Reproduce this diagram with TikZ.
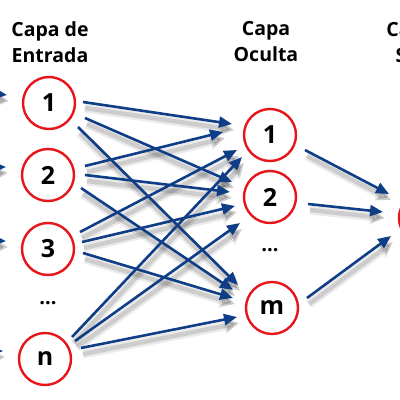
\documentclass[tikz,border=0pt]{standalone}
\usepackage{fontspec}
\setmainfont{Open Sans}
\usetikzlibrary{arrows.meta,calc}
\definecolor{arrblue}{RGB}{16,62,134}
\definecolor{nodered}{RGB}{232,20,28}
\begin{document}
\begin{tikzpicture}[x=1pt,y=-1pt,
  neuron/.style={circle, draw=nodered, line width=2.4pt, fill=white, minimum size=52pt, inner sep=0pt, font=\fontsize{25}{25}\selectfont\bfseries},
  layerlabel/.style={align=center, font=\fontsize{19.5}{26}\selectfont\bfseries},
  dotslabel/.style={font=\fontsize{20}{20}\selectfont\bfseries},
  conn/.style={draw=arrblue, line width=2.6pt, -{Triangle[length=13pt,width=11pt]}},
  shadowA/.style={draw=black, opacity=0.08, line width=9pt, -{Triangle[length=15pt,width=16pt]}},
  shadowB/.style={draw=black, opacity=0.13, line width=4.5pt, -{Triangle[length=13pt,width=12pt]}},
]
\useasboundingbox (0,0) rectangle (400,400);
\clip (0,0) rectangle (400,400);

% layer labels
\node[layerlabel] (lin)  at (50,42)  {Capa de\\Entrada};
\node[layerlabel] (lhid) at (266,42) {Capa\\Oculta};
\node[layerlabel] (lout) at (425,42) {Capa de\\Salida};

% neuron positions
\coordinate (i1) at (49,103);
\coordinate (i2) at (48,175);
\coordinate (i3) at (48,249);
\coordinate (i4) at (45,359);
\coordinate (h1) at (270,135);
\coordinate (h2) at (270,197);
\coordinate (hm) at (272,308);
\coordinate (o1) at (425,218);

% free ends of incoming arrows
\coordinate (s1) at (-40,90);
\coordinate (s2) at (-40,168);
\coordinate (s3) at (-40,240);
\coordinate (s4) at (-40,352);

% shadows
\begin{scope}[transform canvas={shift={(2pt,-6pt)}}]
\foreach \a/\b/\ax/\ay/\bx/\by in {
  i1/h1/34/-1/-38/-11, i1/h2/36/15/-38/-15, i1/hm/29/24/-34/-23,
  i2/h1/37/-9/-47/-3,  i2/h2/37/0/-40/-5,   i2/hm/33/13/-39/-18,
  i3/h1/32/-17/-33/15, i3/h2/34/-7/-35/9,   i3/hm/35/4/-39/-10,
  i4/h1/27/-22/-28/22, i4/h2/30/-18/-30/26, i4/hm/36/-11/-35/9,
  h1/o1/35/15/-36/-24, h2/o1/38/7/-42/-6,   hm/o1/35/-10/-34/18}
{
  \path[shadowA] ($(\a)+(\ax,\ay)$) -- ($(\b)+(\bx,\by)$);
  \path[shadowB] ($(\a)+(\ax,\ay)$) -- ($(\b)+(\bx,\by)$);
}
\foreach \s/\t in {s1/i1, s2/i2, s3/i3, s4/i4}{
  \path[shadowA] (\s) -- ($(\t)+(-42,-8)$);
  \path[shadowB] (\s) -- ($(\t)+(-42,-8)$);
}
\end{scope}

% neurons
\node[neuron] (n1) at (i1) {1};
\node[neuron] (n2) at (i2) {2};
\node[neuron] (n3) at (i3) {3};
\node[neuron] (n4) at (i4) {n};
\node[neuron] (m1) at (h1) {1};
\node[neuron] (m2) at (h2) {2};
\node[neuron] (m3) at (hm) {m};
\node[neuron] (out) at (o1) {1};

\node[dotslabel] (dots1) at (48,303) {...};
\node[dotslabel] (dots2) at (270,250) {...};

% connections
\foreach \a/\b/\ax/\ay/\bx/\by in {
  i1/h1/34/-1/-38/-11, i1/h2/36/15/-38/-15, i1/hm/29/24/-34/-23,
  i2/h1/37/-9/-47/-3,  i2/h2/37/0/-40/-5,   i2/hm/33/13/-39/-18,
  i3/h1/32/-17/-33/15, i3/h2/34/-7/-35/9,   i3/hm/35/4/-39/-10,
  i4/h1/27/-22/-28/22, i4/h2/30/-18/-30/26, i4/hm/36/-11/-35/9,
  h1/o1/35/15/-36/-24, h2/o1/38/7/-42/-6,   hm/o1/35/-10/-34/18}
{
  \draw[conn] ($(\a)+(\ax,\ay)$) -- ($(\b)+(\bx,\by)$);
}
\foreach \s/\t in {s1/i1, s2/i2, s3/i3, s4/i4}{
  \draw[conn] (\s) -- ($(\t)+(-42,-8)$);
}
\end{tikzpicture}
\end{document}
